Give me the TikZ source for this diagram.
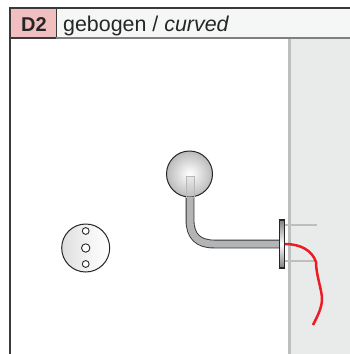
\documentclass[tikz,border=0pt]{standalone}
\usepackage{fontspec}
\setmainfont{Liberation Sans}
\usetikzlibrary{shadings}
\definecolor{wallfill}{HTML}{E9EBEB}
\definecolor{wallline}{HTML}{BCBEC0}
\definecolor{headfill}{HTML}{F5F7F7}
\definecolor{tagfill}{HTML}{F2BFC0}
\definecolor{framecol}{HTML}{3A3A3A}
\definecolor{pipecol}{HTML}{B2B4B6}
\definecolor{redcable}{HTML}{ED1C24}
\pgfdeclareradialshading{ballshade}{\pgfpoint{0bp}{0bp}}{%
  color(0bp)=(white); color(6bp)=(black!6); color(25bp)=(black!27); color(50bp)=(black!27)}
\pgfdeclarehorizontalshading{plateshade}{100bp}{%
  color(0bp)=(black!13); color(25bp)=(black!13); color(55bp)=(black!4); color(75bp)=(white); color(100bp)=(white)}
\tikzset{
  x=1pt,y=-1pt,
  frameline/.style={draw=framecol,line width=1.5pt},
  hole/.style={draw=black!85,line width=.9pt,fill=white},
  pinline/.style={draw=wallline,line width=1.4pt},
}
\begin{document}
\begin{tikzpicture}
\useasboundingbox (0,0) rectangle (350,354);
\fill[white] (0,0) rectangle (350,354);
% wall
\fill[wallfill] (289,38) rectangle (350,354);
\draw[wallline,line width=2.6pt] (289.5,38) -- (289.5,354);
% pins
\draw[pinline] (284,225) -- (317,225);
\draw[pinline] (284,261) -- (315,261);
% header
\fill[headfill] (10,8) rectangle (350,38);
\fill[tagfill] (10,8) rectangle (56,38);
\draw[framecol,line width=1pt] (56,8) -- (56,38);
\draw[black!50,line width=1.5pt] (56,38) -- (350,38);
\draw[framecol,line width=1.2pt] (10,38) -- (56,38);
\draw[frameline] (350,8) -- (10,8) -- (10,354);
\node[anchor=base,font=\fontsize{20}{22}\selectfont\bfseries,text=black!85,inner sep=0] (tag) at (34,31) {D2};
\node[anchor=base west,font=\fontsize{21.4}{24}\selectfont,text=black!85,inner sep=0] (title) at (63,31) {gebogen / \textit{curved}};
% pipe
\draw[black!80,line width=8.8pt] (190,194) -- (190,220) .. controls (190,236) and (198,244) .. (214,244) -- (280,244);
\draw[pipecol,line width=7pt] (190,193) -- (190,220) .. controls (190,236) and (198,244) .. (214,244) -- (280,244);
% ball
\shade[shading=ballshade,draw=black!85,line width=1pt] (189.5,174) circle (23);
\draw[black!28,line width=.8pt,fill=black!22,fill opacity=.3] (186,176.5) rectangle (194,197);
% flange
\shade[left color=black!50,right color=black!50,middle color=white,shading angle=0] (279.5,220) rectangle (284.5,268);
\draw[black!85,line width=1.2pt] (279.5,220) rectangle (284.5,268);
% cable
\draw[redcable,line width=2.5pt] (285,244) .. controls (300,244) and (312,250) .. (316,262) .. controls (316,275) and (322,290) .. (322,299) .. controls (322,308) and (317,317) .. (313,325);
% base plate
\shade[shading=plateshade,draw=black!85,line width=1pt] (85.7,248) circle (24);
\draw[hole] (85.7,231) circle (3.4);
\draw[hole] (85.7,248) circle (4.2);
\draw[hole] (85.7,264) circle (3.4);
\end{tikzpicture}
\end{document}
